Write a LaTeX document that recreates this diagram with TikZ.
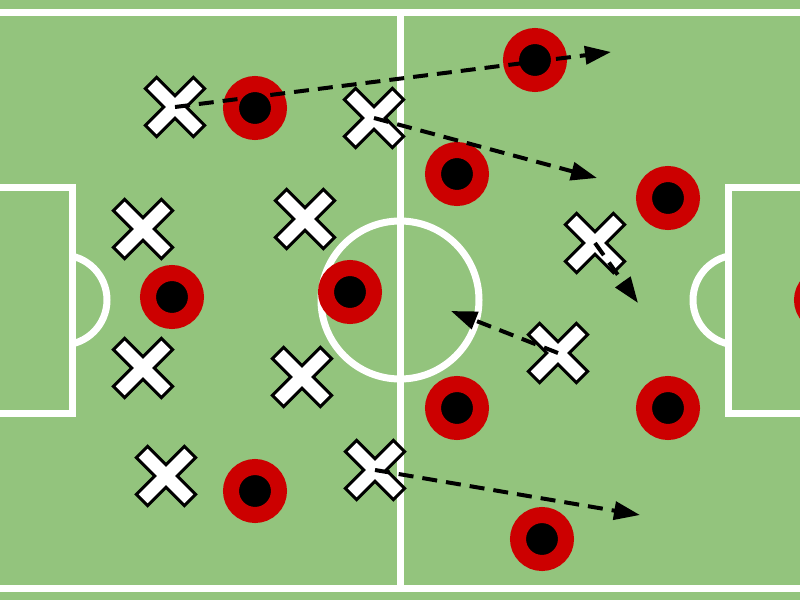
\documentclass[tikz,border=0pt]{standalone}
\usetikzlibrary{arrows.meta}
\definecolor{pitch}{HTML}{93C47D}
\definecolor{kit}{HTML}{CC0000}
\tikzset{
  chalk/.style={draw=white, line width=7pt},
  redplayer/.style={circle, fill=black, draw=kit, line width=16pt, minimum size=48pt, inner sep=0pt},
  runline/.style={draw=black, line width=4pt, dash pattern=on 15pt off 9pt, -{Triangle[length=26pt,width=18pt]}},
  cross/.pic={\filldraw[fill=white, draw=black, line width=3pt, line join=miter, rotate=45]
    (-8,34) -- (8,34) -- (8,8) -- (34,8) -- (34,-8) -- (8,-8) -- (8,-34) -- (-8,-34) -- (-8,-8) -- (-34,-8) -- (-34,8) -- (-8,8) -- cycle;}
}
\begin{document}
\begin{tikzpicture}[x=1pt,y=-1pt]
\useasboundingbox (0,0) rectangle (800,600);
\clip (0,0) rectangle (800,600);
\fill[pitch] (0,0) rectangle (800,600);
% penalty arcs and boxes
\draw[chalk] (62,300) circle[radius=45pt];
\draw[chalk] (738,300) circle[radius=45pt];
\filldraw[fill=pitch, chalk] (-20,187) rectangle (72,413);
\filldraw[fill=pitch, chalk] (728,187) rectangle (820,413);
% touchlines, halfway line, centre circle
\draw[chalk] (-10,12) -- (810,12);
\draw[chalk] (-10,588) -- (810,588);
\draw[chalk] (400,12) -- (400,588);
\draw[chalk] (400,300) circle[radius=79pt];
% red team
\node[redplayer] (r1) at (255,108) {};
\node[redplayer] (r2) at (535,60) {};
\node[redplayer] (r3) at (457,174) {};
\node[redplayer] (r4) at (668,198) {};
\node[redplayer] (r5) at (172,297) {};
\node[redplayer] (r6) at (350,292) {};
\node[redplayer] (r7) at (457,408) {};
\node[redplayer] (r8) at (668,408) {};
\node[redplayer] (r9) at (255,491) {};
\node[redplayer] (r10) at (542,539) {};
\node[redplayer] (r11) at (826,300) {};
% white team
\coordinate (x1) at (175,107);
\coordinate (x2) at (374,118);
\coordinate (x3) at (143,229);
\coordinate (x4) at (305,219);
\coordinate (x5) at (595,243);
\coordinate (x6) at (143,368);
\coordinate (x7) at (302,377);
\coordinate (x8) at (558,353);
\coordinate (x9) at (166,476);
\coordinate (x10) at (375,470);
\foreach \p in {x1,x2,x3,x4,x5,x6,x7,x8,x9,x10} {\pic at (\p) {cross};}
% runs
\coordinate (t1) at (611,52);
\coordinate (t2) at (597,178);
\coordinate (t3) at (638,303);
\coordinate (t4) at (451,311);
\coordinate (t5) at (640,515);
\draw[runline] (x1) -- (t1);
\draw[runline] (x2) -- (t2);
\draw[runline] (x5) -- (t3);
\draw[runline] (x8) -- (t4);
\draw[runline] (x10) -- (t5);
\end{tikzpicture}
\end{document}
